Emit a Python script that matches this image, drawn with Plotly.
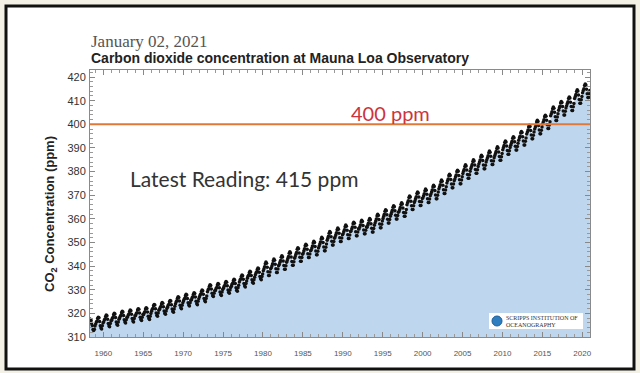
import plotly.graph_objects as go

# ---- data: monthly CO2 (ppm) at Mauna Loa, starting March 1958 ----
start_year, start_month = 1958, 3
co2_ppm = [
    315.7, 317.5, 317.5, 317.1, 315.9, 314.9, 313.2, 312.7, 313.3, 314.7,  # 1958
    315.5, 316.3, 316.7, 317.8, 318.4, 318.1, 316.6, 314.8, 313.8, 313.4, 314.8, 315.9,  # 1959
    316.4, 317.2, 317.6, 318.7, 319.3, 319.0, 317.5, 315.7, 314.7, 314.3, 315.7, 316.8,  # 1960
    317.1, 317.9, 318.3, 319.4, 320.0, 319.7, 318.2, 316.4, 315.4, 315.0, 316.4, 317.5,  # 1961
    318.0, 318.8, 319.2, 320.3, 320.9, 320.6, 319.1, 317.3, 316.3, 315.9, 317.3, 318.4,  # 1962
    318.5, 319.3, 319.7, 320.8, 321.4, 321.1, 319.6, 317.8, 316.8, 316.4, 317.8, 318.9,  # 1963
    319.1, 319.9, 320.3, 321.4, 322.0, 321.7, 320.2, 318.4, 317.4, 317.0, 318.4, 319.5,  # 1964
    319.5, 320.3, 320.7, 321.8, 322.4, 322.1, 320.6, 318.8, 317.8, 317.4, 318.8, 319.9,  # 1965
    320.9, 321.7, 322.1, 323.2, 323.8, 323.5, 322.0, 320.2, 319.2, 318.8, 320.2, 321.3,  # 1966
    321.7, 322.5, 322.9, 324.0, 324.6, 324.3, 322.8, 321.0, 320.0, 319.6, 321.0, 322.1,  # 1967
    322.6, 323.4, 323.8, 324.9, 325.5, 325.2, 323.7, 321.9, 320.9, 320.5, 321.9, 323.0,  # 1968
    324.1, 324.9, 325.3, 326.4, 327.0, 326.7, 325.2, 323.4, 322.4, 322.0, 323.4, 324.5,  # 1969
    325.2, 326.0, 326.4, 327.5, 328.1, 327.8, 326.3, 324.5, 323.5, 323.1, 324.5, 325.6,  # 1970
    325.8, 326.6, 327.0, 328.1, 328.7, 328.4, 326.9, 325.1, 324.1, 323.7, 325.1, 326.2,  # 1971
    327.0, 327.8, 328.2, 329.3, 329.9, 329.6, 328.1, 326.3, 325.3, 324.9, 326.3, 327.4,  # 1972
    329.2, 330.0, 330.4, 331.5, 332.1, 331.8, 330.3, 328.5, 327.5, 327.1, 328.5, 329.6,  # 1973
    329.7, 330.5, 330.9, 332.0, 332.6, 332.3, 330.8, 329.0, 328.0, 327.6, 329.0, 330.1,  # 1974
    330.6, 331.4, 331.8, 332.9, 333.5, 333.2, 331.7, 329.9, 328.9, 328.5, 329.9, 331.0,  # 1975
    331.5, 332.3, 332.7, 333.8, 334.4, 334.1, 332.6, 330.8, 329.8, 329.4, 330.8, 331.9,  # 1976
    333.3, 334.1, 334.5, 335.6, 336.2, 335.9, 334.4, 332.6, 331.6, 331.2, 332.6, 333.7,  # 1977
    334.9, 335.7, 336.1, 337.2, 337.8, 337.5, 336.0, 334.2, 333.2, 332.8, 334.2, 335.3,  # 1978
    336.3, 337.1, 337.5, 338.6, 339.2, 338.9, 337.4, 335.6, 334.6, 334.2, 335.6, 336.7,  # 1979
    338.0, 338.9, 339.7, 341.0, 341.7, 341.2, 339.5, 337.6, 336.0, 336.0, 337.5, 338.9,  # 1980
    339.3, 340.2, 341.0, 342.3, 343.0, 342.5, 340.8, 338.9, 337.3, 337.3, 338.8, 340.2,  # 1981
    340.7, 341.6, 342.4, 343.7, 344.4, 343.9, 342.2, 340.3, 338.7, 338.7, 340.2, 341.6,  # 1982
    342.4, 343.3, 344.1, 345.4, 346.1, 345.6, 343.9, 342.0, 340.4, 340.4, 341.9, 343.3,  # 1983
    344.1, 345.0, 345.8, 347.1, 347.8, 347.3, 345.6, 343.7, 342.1, 342.1, 343.6, 345.0,  # 1984
    345.6, 346.5, 347.3, 348.6, 349.3, 348.8, 347.1, 345.2, 343.6, 343.6, 345.1, 346.5,  # 1985
    346.8, 347.7, 348.5, 349.8, 350.5, 350.0, 348.3, 346.4, 344.8, 344.8, 346.3, 347.7,  # 1986
    348.5, 349.4, 350.2, 351.5, 352.2, 351.7, 350.0, 348.1, 346.5, 346.5, 348.0, 349.4,  # 1987
    350.9, 351.8, 352.6, 353.9, 354.6, 354.1, 352.4, 350.5, 348.9, 348.9, 350.4, 351.8,  # 1988
    352.4, 353.3, 354.1, 355.4, 356.1, 355.6, 353.9, 352.0, 350.4, 350.4, 351.9, 353.3,  # 1989
    353.7, 354.6, 355.4, 356.7, 357.4, 356.9, 355.2, 353.3, 351.7, 351.7, 353.2, 354.6,  # 1990
    354.9, 355.8, 356.6, 357.9, 358.6, 358.1, 356.4, 354.5, 352.9, 352.9, 354.4, 355.8,  # 1991
    355.7, 356.6, 357.4, 358.7, 359.4, 358.9, 357.2, 355.3, 353.7, 353.7, 355.2, 356.6,  # 1992
    356.4, 357.3, 358.1, 359.4, 360.1, 359.6, 357.9, 356.0, 354.4, 354.4, 355.9, 357.3,  # 1993
    358.2, 359.1, 359.9, 361.2, 361.9, 361.4, 359.7, 357.8, 356.2, 356.2, 357.7, 359.1,  # 1994
    360.2, 361.1, 361.9, 363.2, 363.9, 363.4, 361.7, 359.8, 358.2, 358.2, 359.7, 361.1,  # 1995
    361.9, 362.8, 363.6, 364.9, 365.6, 365.1, 363.4, 361.5, 359.9, 359.9, 361.4, 362.8,  # 1996
    363.1, 364.0, 364.8, 366.1, 366.8, 366.3, 364.6, 362.7, 361.1, 361.1, 362.6, 364.0,  # 1997
    366.0, 366.9, 367.7, 369.0, 369.7, 369.2, 367.5, 365.6, 364.0, 364.0, 365.5, 366.9,  # 1998
    367.7, 368.6, 369.4, 370.7, 371.4, 370.9, 369.2, 367.3, 365.7, 365.7, 367.2, 368.6,  # 1999
    368.9, 369.8, 370.6, 371.9, 372.6, 372.1, 370.4, 368.5, 366.9, 366.9, 368.4, 369.8,  # 2000
    370.5, 371.4, 372.2, 373.5, 374.2, 373.7, 372.0, 370.1, 368.5, 368.5, 370.0, 371.4,  # 2001
    372.7, 373.6, 374.4, 375.7, 376.4, 375.9, 374.2, 372.3, 370.7, 370.7, 372.2, 373.6,  # 2002
    375.2, 376.1, 376.9, 378.2, 378.9, 378.4, 376.7, 374.8, 373.2, 373.2, 374.7, 376.1,  # 2003
    376.9, 377.8, 378.6, 379.9, 380.6, 380.1, 378.4, 376.5, 374.9, 374.9, 376.4, 377.8,  # 2004
    379.2, 380.1, 380.9, 382.2, 382.9, 382.4, 380.7, 378.8, 377.2, 377.2, 378.7, 380.1,  # 2005
    381.3, 382.2, 383.0, 384.3, 385.0, 384.5, 382.8, 380.9, 379.3, 379.3, 380.8, 382.2,  # 2006
    383.2, 384.1, 384.9, 386.2, 386.9, 386.4, 384.7, 382.8, 381.2, 381.2, 382.7, 384.1,  # 2007
    385.0, 385.9, 386.7, 388.0, 388.7, 388.2, 386.5, 384.6, 383.0, 383.0, 384.5, 385.9,  # 2008
    386.8, 387.7, 388.5, 389.8, 390.5, 390.0, 388.3, 386.4, 384.8, 384.8, 386.3, 387.7,  # 2009
    389.3, 390.2, 391.0, 392.3, 393.0, 392.5, 390.8, 388.9, 387.3, 387.3, 388.8, 390.2,  # 2010
    391.1, 392.0, 392.8, 394.1, 394.8, 394.3, 392.6, 390.7, 389.1, 389.1, 390.6, 392.0,  # 2011
    393.3, 394.2, 395.0, 396.3, 397.0, 396.5, 394.8, 392.9, 391.3, 391.3, 392.8, 394.2,  # 2012
    395.9, 396.8, 397.6, 398.9, 399.6, 399.1, 397.4, 395.5, 393.9, 393.9, 395.4, 396.8,  # 2013
    398.0, 398.9, 399.7, 401.0, 401.7, 401.2, 399.5, 397.6, 396.0, 396.0, 397.5, 398.9,  # 2014
    400.2, 401.1, 401.9, 403.2, 403.9, 403.4, 401.7, 399.8, 398.2, 398.2, 399.7, 401.1,  # 2015
    403.6, 404.5, 405.3, 406.6, 407.3, 406.8, 405.1, 403.2, 401.6, 401.6, 403.1, 404.5,  # 2016
    406.0, 406.9, 407.7, 409.0, 409.7, 409.2, 407.5, 405.6, 404.0, 404.0, 405.5, 406.9,  # 2017
    407.9, 408.8, 409.6, 410.9, 411.6, 411.1, 409.4, 407.5, 405.9, 405.9, 407.4, 408.8,  # 2018
    410.9, 411.8, 412.6, 413.9, 414.6, 414.1, 412.4, 410.5, 408.9, 408.9, 410.4, 411.8,  # 2019
    413.4, 414.3, 415.1, 416.4, 417.1, 416.6, 414.9, 413.0, 411.4, 411.4, 412.9, 414.3,  # 2020
]
threshold_ppm = 400
y_ticks = [310, 320, 330, 340, 350, 360, 370, 380, 390, 400, 410, 420]
date_label = "January 02, 2021"
title_text = "Carbon dioxide concentration at Mauna Loa Observatory"
threshold_label = "400 ppm"
latest_label = "Latest Reading: 415 ppm"
logo_lines = ["SCRIPPS INSTITUTION OF", "OCEANOGRAPHY"]

# monthly dates (15th of each month)
dates = []
for i in range(len(co2_ppm)):
    k = (start_month - 1) + i
    dates.append(f"{start_year + k // 12}-{k % 12 + 1:02d}-15")

W, H = 640, 373
L, R, T, B = 90, 50, 70, 36
pw, ph = W - L - R, H - T - B
def px(x):  # pixel x -> paper
    return (x - L) / pw
def py(y):  # pixel y -> paper
    return 1 - (y - T) / ph

fig = go.Figure()
fig.add_trace(go.Scatter(
    x=dates, y=co2_ppm, mode="lines", fill="tozeroy",
    fillcolor="#bfd7ee", line=dict(width=0), hoverinfo="skip", showlegend=False))
fig.add_trace(go.Scatter(
    x=dates, y=co2_ppm, mode="markers",
    marker=dict(color="#111111", size=3.5), showlegend=False))

fig.update_layout(
    width=W, height=H,
    margin=dict(l=L, r=R, t=T, b=B),
    paper_bgcolor="#f3f0e6",
    plot_bgcolor="white",
    showlegend=False,
    font=dict(family="Liberation Sans, Arial", color="#333333"),
)
fig.update_xaxes(
    type="date", range=["1958-05-01", "2020-12-20"],
    tick0="1960-01-01", dtick="M60", tickformat="%Y",
    ticks="inside", ticklen=5, tickcolor="#888888",
    minor=dict(dtick="M12", ticks="inside", ticklen=3, tickcolor="#999999"),
    showline=True, linecolor="#8a8a8a", linewidth=1, mirror="allticks",
    showgrid=False, zeroline=False,
    tickfont=dict(size=8, color="#555555"), ticklabelstandoff=8,
)
fig.update_yaxes(
    range=[310, 423], tickvals=y_ticks,
    ticks="inside", ticklen=5, tickcolor="#888888",
    minor=dict(dtick=2, ticks="inside", ticklen=3, tickcolor="#999999"),
    showline=True, linecolor="#8a8a8a", linewidth=1, mirror="allticks",
    showgrid=False, zeroline=False,
    tickfont=dict(size=11, color="#333333"), ticklabelstandoff=1,
)

# threshold line
fig.add_shape(type="line", xref="paper", yref="y", x0=0, x1=1,
              y0=threshold_ppm, y1=threshold_ppm,
              line=dict(color="#e0783a", width=2))

# outer white frame with black border
fig.add_shape(type="rect", xref="paper", yref="paper", layer="below",
              x0=px(6), x1=px(634), y0=py(6), y1=py(369),
              fillcolor="white", line=dict(color="#111111", width=3))

# Scripps logo box
fig.add_shape(type="rect", xref="paper", yref="paper",
              x0=px(489), x1=px(583), y0=py(313), y1=py(329),
              fillcolor="white", line=dict(width=0))
fig.add_shape(type="circle", xref="paper", yref="paper",
              x0=px(492), x1=px(502), y0=py(316), y1=py(326),
              fillcolor="#2f7fc0", line=dict(color="#1d5f99", width=1))
fig.add_annotation(x=px(504), y=py(318), xref="paper", yref="paper",
                   text=logo_lines[0],
                   showarrow=False, xanchor="left", yanchor="middle",
                   font=dict(family="Liberation Serif", size=6, color="#333"))
fig.add_annotation(x=px(504), y=py(324.5), xref="paper", yref="paper",
                   text=logo_lines[1],
                   showarrow=False, xanchor="left", yanchor="middle",
                   font=dict(family="Liberation Serif", size=6, color="#333"))

# titles
fig.add_annotation(x=px(89), y=py(42), xref="paper", yref="paper",
                   text=date_label, showarrow=False, xanchor="left", yanchor="middle",
                   font=dict(family="Liberation Serif, Times New Roman", size=17, color="#555555"))
fig.add_annotation(x=px(89), y=py(58), xref="paper", yref="paper",
                   text=f"<b>{title_text}</b>", showarrow=False, xanchor="left", yanchor="middle",
                   font=dict(family="Liberation Sans, Arial", size=14, color="#222222"))
# y-axis title
fig.add_annotation(x=px(50), y=py(214), xref="paper", yref="paper",
                   text="<b>CO<sub>2</sub> Concentration (ppm)</b>", showarrow=False,
                   textangle=-90, xanchor="center", yanchor="middle",
                   font=dict(family="Liberation Sans, Arial", size=13, color="#222222"))
# in-plot labels
fig.add_annotation(x=px(390), y=py(113), xref="paper", yref="paper",
                   text=threshold_label, showarrow=False, xanchor="center", yanchor="middle",
                   font=dict(family="Lato, Open Sans", size=20, color="#cc3340"))
fig.add_annotation(x=px(128), y=py(178), xref="paper", yref="paper",
                   text=latest_label, showarrow=False, xanchor="left", yanchor="middle",
                   font=dict(family="Lato, Open Sans", size=21, color="#333333"))

fig.write_html("out.html",
               config={"displayModeBar": False},
               post_script="document.body.style.margin='0';document.body.style.overflow='hidden';")
